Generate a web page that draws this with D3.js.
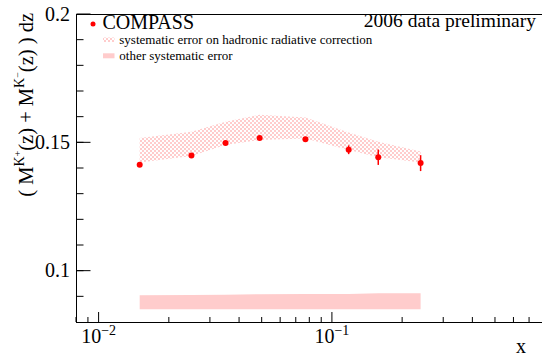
<!DOCTYPE html>
<html>
<head>
<meta charset="utf-8">
<script src="https://cdn.jsdelivr.net/npm/d3@7"></script>
<style>
  body { margin: 0; background: #fff; }
  text { font-family: "Liberation Serif", "DejaVu Serif", serif; }
</style>
</head>
<body>
<div class="chart"></div>
<script>
// data
let xVals = [0.015, 0.025, 0.035, 0.049, 0.077, 0.118, 0.158, 0.24];
let yVals = [0.1413, 0.1449, 0.1497, 0.1517, 0.1512, 0.1471, 0.1442, 0.1419];
let statErr = [0.0004, 0.0004, 0.0004, 0.0004, 0.0005, 0.0017, 0.003, 0.0031];
// systematic error on hadronic radiative correction (band)
let radLow = [0.1421, 0.1447, 0.149, 0.1509, 0.1515, 0.147, 0.1442, 0.1421];
let radHigh = [0.1517, 0.1541, 0.158, 0.1607, 0.1597, 0.1538, 0.1502, 0.1464];
// other systematic error (band at the bottom)
let otherLow = [0.085, 0.085, 0.085, 0.085, 0.085, 0.085, 0.085, 0.085];
let otherHigh = [0.0904, 0.0905, 0.0906, 0.0908, 0.0909, 0.0909, 0.0912, 0.0912];
// axes
let yTicks = [0.1, 0.15, 0.2];
let yTickLabels = ['0.1', '0.15', '0.2'];
let xTicks = [0.01, 0.1];
let xTickExp = ['\u22122', '\u22121'];

let W = 542, H = 358;
let frame = { left: 76.5, right: 542.5, top: 14, bottom: 322 };

let svg = d3.select('.chart')
    .append('svg')
    .attr('width', W)
    .attr('height', H);

let xScale = d3.scaleLog()
    .domain([0.008, 0.8])
    .range([76, 542.6]);
let yScale = d3.scaleLinear()
    .domain([0.08, 0.2])
    .range([frame.bottom, frame.top]);

// hatch pattern for the radiative correction band
let defs = svg.append('defs');
let pat = defs.append('pattern')
    .attr('id', 'hatch')
    .attr('patternUnits', 'userSpaceOnUse')
    .attr('width', 4).attr('height', 4);
pat.append('rect').attr('x', 0).attr('y', 0).attr('width', 2).attr('height', 2).attr('fill', '#ffcccc');
pat.append('rect').attr('x', 2).attr('y', 2).attr('width', 2).attr('height', 2).attr('fill', '#ffcccc');

let rows = xVals.map((x, i) => ({
    x: x, y: yVals[i], e: statErr[i],
    rl: radLow[i], rh: radHigh[i], ol: otherLow[i], oh: otherHigh[i]
}));

// bands
let radArea = d3.area()
    .x(d => xScale(d.x))
    .y0(d => yScale(d.rl))
    .y1(d => yScale(d.rh));
svg.append('path')
    .datum(rows)
    .attr('d', radArea)
    .attr('fill', 'url(#hatch)');

let otherArea = d3.area()
    .x(d => xScale(d.x))
    .y0(d => yScale(d.ol))
    .y1(d => yScale(d.oh));
svg.append('path')
    .datum(rows)
    .attr('d', otherArea)
    .attr('fill', '#ffcccc');

// frame
svg.append('rect')
    .attr('x', frame.left).attr('y', frame.top + 0.5)
    .attr('width', frame.right - frame.left)
    .attr('height', frame.bottom - frame.top)
    .attr('fill', 'none')
    .attr('stroke', '#000')
    .attr('stroke-width', 1);

// y axis ticks (inside)
let yMinor = d3.range(9, 20).map(v => v / 100);
svg.selectAll('.yminor')
    .data(yMinor)
    .enter()
    .append('line')
    .attr('x1', frame.left).attr('x2', frame.left + 7)
    .attr('y1', d => yScale(d)).attr('y2', d => yScale(d))
    .attr('stroke', '#000');
svg.selectAll('.ymajor')
    .data(yTicks)
    .enter()
    .append('line')
    .attr('x1', frame.left).attr('x2', frame.left + 14)
    .attr('y1', d => yScale(d)).attr('y2', d => yScale(d))
    .attr('stroke', '#000');
svg.selectAll('.ylab')
    .data(yTicks)
    .enter()
    .append('text')
    .attr('x', 70)
    .attr('y', d => yScale(d) + 6.5)
    .style('text-anchor', 'end')
    .style('font-size', '20px')
    .text((d, i) => yTickLabels[i]);

// x axis ticks (log)
let xMinor = [];
[0.001, 0.01, 0.1].forEach(dec => {
    for (let k = 2; k <= 9; k++) {
        let v = dec * k;
        if (v >= 0.008 && v <= 0.8) xMinor.push(v);
    }
});
svg.selectAll('.xminor')
    .data(xMinor)
    .enter()
    .append('line')
    .attr('x1', d => xScale(d)).attr('x2', d => xScale(d))
    .attr('y1', frame.bottom).attr('y2', frame.bottom - 5)
    .attr('stroke', '#000');
svg.selectAll('.xmajor')
    .data(xTicks)
    .enter()
    .append('line')
    .attr('x1', d => xScale(d)).attr('x2', d => xScale(d))
    .attr('y1', frame.bottom).attr('y2', frame.bottom - 10)
    .attr('stroke', '#000');
let xl = svg.selectAll('.xlab')
    .data(xTicks)
    .enter()
    .append('text')
    .attr('x', d => xScale(d))
    .attr('y', 343)
    .style('text-anchor', 'middle')
    .style('font-size', '20px');
xl.append('tspan').text('10');
xl.append('tspan')
    .attr('dy', -8)
    .style('font-size', '14px')
    .text((d, i) => xTickExp[i]);

// axis titles, ROOT style: aligned to the far end of each axis
svg.append('text')
    .attr('x', 526)
    .attr('y', 353)
    .style('text-anchor', 'end')
    .style('font-size', '20px')
    .text('x');

let yt = svg.append('text')
    .attr('transform', 'translate(33,13) rotate(-90)')
    .style('text-anchor', 'end')
    .style('font-size', '20.5px')
    .attr('xml:space', 'preserve');
yt.append('tspan').text('( M');
yt.append('tspan').attr('dy', -9).style('font-size', '14px').text('K');
yt.append('tspan').attr('dy', -3).style('font-size', '10px').text('+');
yt.append('tspan').attr('dy', 12).text('(z) + M');
yt.append('tspan').attr('dy', -9).style('font-size', '14px').text('K');
yt.append('tspan').attr('dy', -3).style('font-size', '10px').text('\u2212');
yt.append('tspan').attr('dy', 12).text('(z) ) dz');

// data points with stat errors
svg.selectAll('.err')
    .data(rows)
    .enter()
    .append('line')
    .attr('x1', d => xScale(d.x)).attr('x2', d => xScale(d.x))
    .attr('y1', d => yScale(d.y - d.e)).attr('y2', d => yScale(d.y + d.e))
    .attr('stroke', '#ff0000')
    .attr('stroke-width', 1.5);
svg.selectAll('.pt')
    .data(rows)
    .enter()
    .append('circle')
    .attr('cx', d => xScale(d.x))
    .attr('cy', d => yScale(d.y))
    .attr('r', 3)
    .attr('fill', '#ff0000');

// legend
svg.append('circle')
    .attr('cx', 93).attr('cy', 24).attr('r', 2.5)
    .attr('fill', '#ff0000');
svg.append('text')
    .attr('x', 102.5).attr('y', 29)
    .style('font-size', '20px')
    .text('COMPASS');
svg.append('rect')
    .attr('x', 103).attr('y', 37.5).attr('width', 11.5).attr('height', 4.5)
    .attr('fill', 'url(#hatch)');
svg.append('text')
    .attr('x', 119.3).attr('y', 44)
    .style('font-size', '13px')
    .text('systematic error on hadronic radiative correction');
svg.append('rect')
    .attr('x', 103).attr('y', 53.3).attr('width', 11.5).attr('height', 5)
    .attr('fill', '#ffcccc');
svg.append('text')
    .attr('x', 119.3).attr('y', 59.5)
    .style('font-size', '13px')
    .text('other systematic error');

svg.append('text')
    .attr('x', 536).attr('y', 27)
    .style('text-anchor', 'end')
    .style('font-size', '19.5px')
    .text('2006 data preliminary');
</script>
</body>
</html>
